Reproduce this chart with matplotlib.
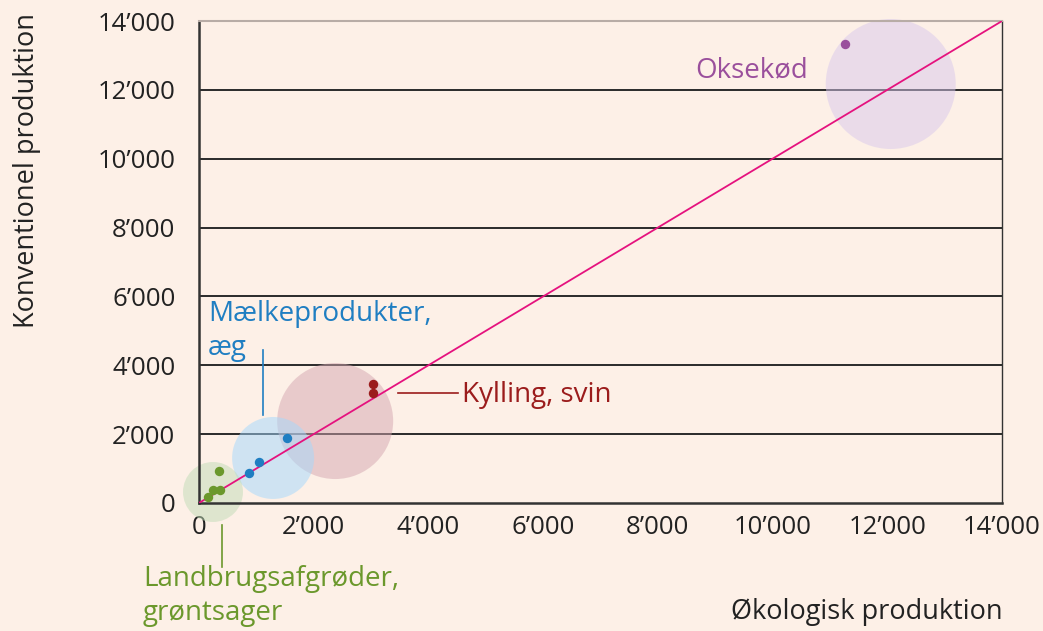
import matplotlib.pyplot as plt
import numpy as np

plt.rcParams['font.family'] = ['Open Sans', 'DejaVu Sans']

# group bubbles (centre x, centre y, radius in px)
groups = ['Oksekød', 'Kylling, svin', 'Mælkeprodukter,\næg', 'Landbrugsafgrøder,\ngrøntsager']
bubble_x = [12060, 2374, 1292, 244]
bubble_y = [12170, 2380, 1307, 319]
bubble_r = [65, 58, 41, 30]

# individual products
beef_x = [11260]
beef_y = [13330]
meat_x = [3037, 3037]
meat_y = [3456, 3195]
dairy_x = [1536, 1047, 873]
dairy_y = [1888, 1190, 871]
crops_x = [349, 244, 367, 157]
crops_y = [929, 378, 378, 174]

ticks = [0, 2000, 4000, 6000, 8000, 10000, 12000, 14000]

bg = '#fdf0e7'
dot_cols = ['#9a4f9c', '#9b1c1c', '#1f7ec2', '#6b982c']
fill_cols = ['#d8c8ec', '#d4a6b0', '#a3d8fd', '#c1dcb7']

fig = plt.figure(figsize=(10.43, 6.31), dpi=100, facecolor=bg)
ax = fig.add_axes([0.1908, 0.2029, 0.9607 - 0.1908, 0.9667 - 0.2029])
ax.set_facecolor(bg)

for y in ticks[1:-1]:
    ax.axhline(y, color='#2a2a2a', lw=1.4, zorder=1)

sizes = [(2 * r * 0.72) ** 2 for r in bubble_r]
ax.scatter(bubble_x, bubble_y, s=sizes, c=fill_cols, alpha=0.5, lw=0, zorder=2, clip_on=False)

ax.plot([0, 14000], [0, 14000], color='#e5127e', lw=1.3, zorder=3)

for xs, ys, c in zip([beef_x, meat_x, dairy_x, crops_x], [beef_y, meat_y, dairy_y, crops_y], dot_cols):
    ax.scatter(xs, ys, s=46, color=c, lw=0, zorder=4)

ax.set_xlim(0, 14000)
ax.set_ylim(0, 14000)
ax.set_xticks(ticks)
ax.set_yticks(ticks)
fmt = lambda v: f'{v:,}'.replace(',', '\u2019')
ax.set_xticklabels([fmt(t) for t in ticks])
ax.set_yticklabels([fmt(t) for t in ticks])
ax.tick_params(length=0, labelsize=18.5, colors='#222222')
ax.tick_params(axis='x', pad=9)
ax.tick_params(axis='y', pad=17)

for s in ['left', 'bottom']:
    ax.spines[s].set_color('#333333')
    ax.spines[s].set_linewidth(1.8)
ax.spines['right'].set_color('#333333')
ax.spines['right'].set_linewidth(1.0)
ax.spines['top'].set_color('#b8aca6')
ax.spines['top'].set_linewidth(1.5)

fs = 20
ax.text(8658, 12576, groups[0], color=dot_cols[0], fontsize=fs, va='center', ha='left')
ax.text(4591, 3137, groups[1], color=dot_cols[1], fontsize=fs, va='center', ha='left')
ax.plot([3474, 4521], [3195, 3195], color=dot_cols[1], lw=1.2, clip_on=False)
ax.text(157, 5900, groups[2], color=dot_cols[2], fontsize=fs, va='top', ha='left', linespacing=1.3)
ax.plot([1117, 1117], [4444, 2556], color=dot_cols[2], lw=1.2, clip_on=False)
ax.text(-977, -1800, groups[3], color=dot_cols[3], fontsize=fs, va='top', ha='left', linespacing=1.3, clip_on=False)
ax.plot([401, 401], [-650, -1850], color=dot_cols[3], lw=1.2, clip_on=False)

fig.text(1003 / 1043, 1 - 612 / 631, 'Økologisk produktion', fontsize=19.5, ha='right', va='center', color='#222222')
fig.text(27 / 1043, 1 - 170 / 631, 'Konventionel produktion', fontsize=19.5, ha='center', va='center',
         rotation=90, color='#222222')

fig.savefig('out.png', dpi=100, facecolor=bg)
